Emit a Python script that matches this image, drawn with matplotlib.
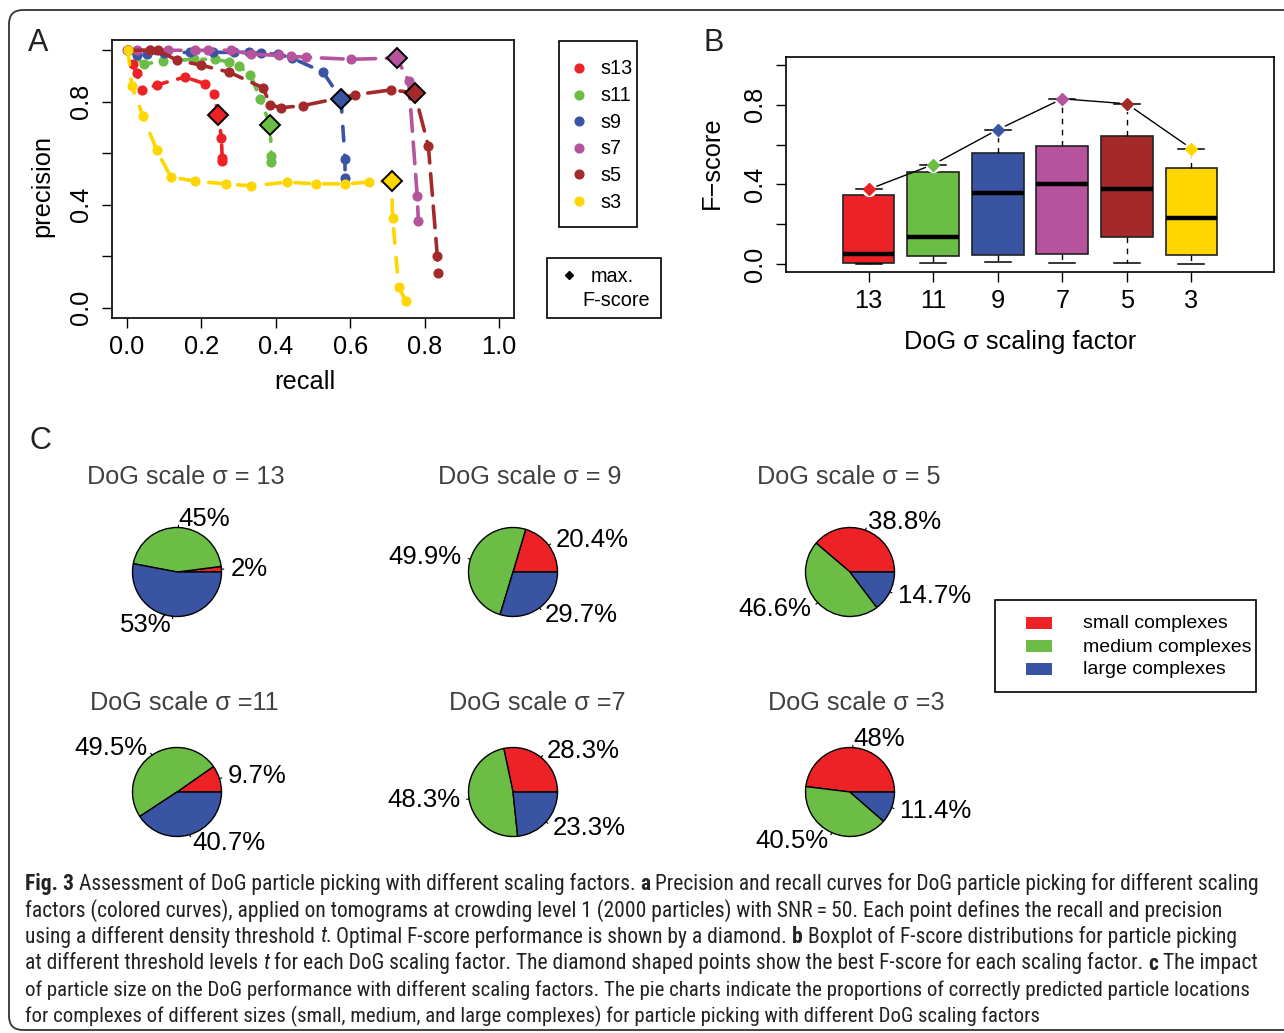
import os
import matplotlib
matplotlib.use('Agg')
import matplotlib.pyplot as plt
from matplotlib.patches import FancyBboxPatch, Rectangle
from matplotlib.lines import Line2D
from matplotlib import font_manager as fm
from matplotlib.font_manager import FontProperties
import numpy as np

W, H = 1284, 1033
DPI = 100
plt.rcParams['font.family'] = ['Liberation Sans', 'DejaVu Sans']

# ---------------- data: panel A (precision / recall) ----------------
series_names = ['s13', 's11', 's9', 's7', 's5', 's3']
series_colors = ['#EC2227', '#6BBD46', '#3A54A4', '#B5539C', '#A3292A', '#FFD600']

s13_recall = [0.003, 0.016, 0.027, 0.04, 0.08, 0.155, 0.21, 0.233, 0.246, 0.254, 0.256, 0.256]
s13_precision = [1.0, 0.946, 0.91, 0.846, 0.865, 0.896, 0.87, 0.83, 0.75, 0.658, 0.58, 0.57]

s11_recall = [0.003, 0.045, 0.096, 0.18, 0.238, 0.275, 0.302, 0.332, 0.358, 0.385, 0.388, 0.388]
s11_precision = [1.0, 0.946, 0.958, 0.965, 0.965, 0.954, 0.938, 0.904, 0.812, 0.708, 0.588, 0.565]

s9_recall = [0.003, 0.027, 0.053, 0.1, 0.17, 0.23, 0.289, 0.329, 0.361, 0.406, 0.444, 0.527, 0.575, 0.586, 0.586]
s9_precision = [1.0, 0.98, 0.985, 0.99, 0.992, 0.992, 0.992, 0.992, 0.988, 0.985, 0.97, 0.915, 0.812, 0.577, 0.504]

s7_recall = [0.0, 0.027, 0.061, 0.11, 0.182, 0.217, 0.281, 0.334, 0.409, 0.441, 0.481, 0.602, 0.725, 0.757, 0.78, 0.783]
s7_precision = [1.0, 1.0, 1.0, 1.0, 1.0, 1.0, 1.0, 0.985, 0.98, 0.977, 0.973, 0.965, 0.97, 0.88, 0.435, 0.338]

s5_recall = [0.003, 0.062, 0.083, 0.134, 0.2, 0.275, 0.366, 0.385, 0.414, 0.473, 0.612, 0.709, 0.773, 0.81, 0.834, 0.837]
s5_precision = [1.0, 1.0, 1.0, 0.962, 0.942, 0.915, 0.854, 0.788, 0.777, 0.785, 0.827, 0.846, 0.835, 0.627, 0.2, 0.135]

s3_recall = [0.003, 0.013, 0.043, 0.08, 0.118, 0.182, 0.265, 0.334, 0.43, 0.508, 0.586, 0.65, 0.711, 0.714, 0.73, 0.749]
s3_precision = [1.0, 0.862, 0.746, 0.612, 0.508, 0.492, 0.481, 0.473, 0.488, 0.481, 0.481, 0.488, 0.492, 0.35, 0.081, 0.027]

best_recall = [0.246, 0.385, 0.575, 0.725, 0.773, 0.711]
best_precision = [0.75, 0.708, 0.812, 0.97, 0.835, 0.492]

# ---------------- data: panel B (F-score boxplots) ----------------
fs_labels = ['13', '11', '9', '7', '5', '3']
fs_median = [0.05, 0.135, 0.355, 0.40, 0.375, 0.23]
fs_q1 = [0.005, 0.04, 0.045, 0.05, 0.135, 0.045]
fs_q3 = [0.345, 0.46, 0.56, 0.595, 0.645, 0.48]
fs_whislo = [0.0, 0.005, 0.01, 0.005, 0.005, 0.0]
max_fscore = [0.375, 0.50, 0.675, 0.83, 0.805, 0.58]

# ---------------- data: panel C (pies) ----------------
pie_titles = ['DoG scale σ = 13', 'DoG scale σ = 9', 'DoG scale σ = 5',
              'DoG scale σ =11', 'DoG scale σ =7', 'DoG scale σ =3']
pie_small = [2, 20.4, 38.8, 9.7, 28.3, 48]
pie_medium = [45, 49.9, 46.6, 49.5, 48.3, 40.5]
pie_large = [53, 29.7, 14.7, 40.7, 23.3, 11.4]
pie_categories = ['small complexes', 'medium complexes', 'large complexes']
pie_colors = ['#EC2227', '#6BBD46', '#3A54A4']

# ---------------- layout helpers ----------------
fig = plt.figure(figsize=(W / DPI, H / DPI), dpi=DPI)
fig.patch.set_facecolor('white')


def rect(l, t, r, b):
    return [l / W, 1 - b / H, (r - l) / W, (b - t) / H]


bg = fig.add_axes([0, 0, 1, 1])
bg.set_xlim(0, W)
bg.set_ylim(H, 0)
bg.axis('off')
bg.set_zorder(-5)

# outer rounded frame
bg.add_patch(FancyBboxPatch((9, 10), 1300 - 9, 1030 - 10,
                            boxstyle='round,pad=0,rounding_size=14',
                            fc='none', ec='#333333', lw=1.3, clip_on=False))

TICK_FS = 18.3
LAB_FS = 18.3

# ---------------- panel A ----------------
axA = fig.add_axes(rect(112, 40, 514, 318))
recalls = [s13_recall, s11_recall, s9_recall, s7_recall, s5_recall, s3_recall]
precisions = [s13_precision, s11_precision, s9_precision, s7_precision, s5_precision, s3_precision]
styles = [(0, (1, 3, 4, 3)), (0, (1, 3, 4, 3)), (0, (4, 4)), (0, (6, 3)), (0, (6, 3)), (0, (4, 4))]
for rec, prec, c, ls in zip(recalls, precisions, series_colors, styles):
    axA.plot(rec, prec, color=c, lw=2.6, ls=ls, dash_capstyle='round',
             marker='o', ms=6.3, mfc=c, mec=c, zorder=3)
for r, p, c in zip(best_recall, best_precision, series_colors):
    axA.plot([r], [p], marker='D', ms=10.5, mfc=c, mec='black', mew=1.4, ls='none', zorder=5)
axA.set_xlim(-0.04, 1.04)
axA.set_ylim(-0.04, 1.04)
axA.set_xticks(np.arange(0, 1.01, 0.2))
axA.set_xticklabels(['0.0', '0.2', '0.4', '0.6', '0.8', '1.0'])
axA.set_yticks(np.arange(0, 1.01, 0.2))
axA.set_yticklabels(['0.0', '', '0.4', '', '0.8', ''])
axA.tick_params(direction='out', length=7, width=1, labelsize=TICK_FS)
axA.tick_params(axis='x', pad=5.5)
axA.tick_params(axis='y', pad=7)
for lbl in axA.get_yticklabels():
    lbl.set_rotation(90)
    lbl.set_va('center')
for sp in axA.spines.values():
    sp.set_linewidth(1.2)

bg.text(38, 43, 'A', fontsize=22, ha='center', va='center', color='#222222')
bg.text(42, 186, 'precision', fontsize=LAB_FS, rotation=90, ha='center', va='center')
bg.text(305, 382, 'recall', fontsize=LAB_FS, ha='center', va='center')

# legend A (series)
bg.add_patch(Rectangle((559, 41), 637 - 559, 227 - 41, fc='white', ec='black', lw=1.2))
for i, (nm, c) in enumerate(zip(series_names, series_colors)):
    y = 68 + i * 26.6
    bg.add_line(Line2D([579], [y], marker='o', ms=6.3, mfc=c, mec=c, ls='none'))
    bg.text(600, y + 1, nm, fontsize=14.3, ha='left', va='center')
bg.add_patch(Rectangle((547, 258), 661 - 547, 318 - 258, fc='white', ec='black', lw=1.2))
bg.add_line(Line2D([569], [275], marker='D', ms=4, mfc='black', mec='black', ls='none'))
bg.text(591, 277, 'max.', fontsize=14.3, ha='left', va='center')
bg.text(582, 300, 'F-score', fontsize=14.3, ha='left', va='center')

# ---------------- panel B ----------------
axB = fig.add_axes(rect(786, 57, 1274, 272))
positions = np.arange(1, len(fs_labels) + 1)
stats = [dict(med=m, q1=a, q3=b, whislo=lo, whishi=hi, fliers=[])
         for m, a, b, lo, hi in zip(fs_median, fs_q1, fs_q3, fs_whislo, max_fscore)]
bp = axB.bxp(stats, positions=positions, widths=0.8, patch_artist=True, showfliers=False,
             boxprops=dict(edgecolor='#222222', linewidth=1.2),
             medianprops=dict(color='black', linewidth=3.2, solid_capstyle='butt'),
             whiskerprops=dict(color='black', linewidth=1.0, linestyle=(0, (4, 4))),
             capprops=dict(color='black', linewidth=1.1))
for patch, c in zip(bp['boxes'], series_colors):
    patch.set_facecolor(c)
axB.plot(positions, max_fscore, color='black', lw=1.0, zorder=4)
axB.plot(positions, max_fscore, ls='none', marker='o', ms=11, mfc='white', mec='none', zorder=5)
for cap in bp['caps']:
    cap.set_zorder(6)
for x, f, c in zip(positions, max_fscore, series_colors):
    axB.plot([x], [f], marker='D', ms=6.5, mfc=c, mec=c, ls='none', zorder=7)
axB.set_xlim(-0.28, 7.28)
axB.set_ylim(-0.04, 1.04)
axB.set_xticks(positions)
axB.set_xticklabels(fs_labels)
axB.set_yticks(np.arange(0, 1.01, 0.2))
axB.set_yticklabels(['0.0', '', '0.4', '', '0.8', ''])
axB.tick_params(direction='out', length=7, width=1, labelsize=TICK_FS)
axB.tick_params(axis='x', pad=5.5)
axB.tick_params(axis='y', pad=7)
for lbl in axB.get_yticklabels():
    lbl.set_rotation(90)
    lbl.set_va('center')
for sp in axB.spines.values():
    sp.set_linewidth(1.2)

bg.text(714, 43, 'B', fontsize=22, ha='center', va='center', color='#222222')
bg.text(712, 163, 'F\u2212score', fontsize=LAB_FS, rotation=90, ha='center', va='center')
bg.text(1020, 342, 'DoG σ scaling factor', fontsize=LAB_FS, ha='center', va='center')

# ---------------- panel C ----------------
bg.text(40, 441, 'C', fontsize=22, ha='center', va='center', color='#222222')
centers = [(177, 572), (513, 572), (850, 572), (177, 792), (513, 792), (850, 792)]
title_pos = [(186, 477), (530, 477), (849, 477), (184, 703), (537, 703), (856, 703)]
R = 44.5
for i in range(6):
    cx, cy = centers[i]
    axp = fig.add_axes(rect(cx - R, cy - R, cx + R, cy + R))
    vals = [pie_small[i], pie_medium[i], pie_large[i]]
    labels = ['%g%%' % v for v in vals]
    wedges, texts = axp.pie(vals, colors=pie_colors, labels=labels, labeldistance=1.2,
                            startangle=0, counterclock=True, radius=1,
                            wedgeprops=dict(edgecolor='black', linewidth=1.0),
                            textprops=dict(fontsize=18.5))
    for w in wedges:
        w.set_clip_on(False)
    cum = np.cumsum([0] + vals) / np.sum(vals) * 2 * np.pi
    mids = (cum[:-1] + cum[1:]) / 2
    for a in mids:
        axp.plot([np.cos(a), 1.05 * np.cos(a)], [np.sin(a), 1.05 * np.sin(a)],
                 color='black', lw=0.8, clip_on=False)
    axp.set_xlim(-1, 1)
    axp.set_ylim(-1, 1)
    axp.set_aspect('equal')
    axp.axis('off')
    tx, ty = title_pos[i]
    bg.text(tx, ty, pie_titles[i], fontsize=18.2, ha='center', va='center', color='#404040')

# legend C
bg.add_patch(Rectangle((995, 600), 1256 - 995, 692 - 600, fc='white', ec='black', lw=1.2))
for i, (nm, c) in enumerate(zip(pie_categories, pie_colors)):
    y = 623 + i * 23
    bg.add_patch(Rectangle((1026, y - 6), 26, 12, fc=c, ec='none'))
    bg.text(1083, y + 1, nm, fontsize=14, ha='left', va='center')

# ---------------- caption ----------------
def find_narrow():
    entries = fm.fontManager.ttflist
    cands = [e for e in entries if ('Narrow' in os.path.basename(e.fname) or 'Condensed' in os.path.basename(e.fname)
                                    or 'Narrow' in e.name or 'Condensed' in e.name)]
    order = ['Liberation Sans Narrow', 'Roboto Condensed', 'Open Sans Condensed', 'DejaVu Sans']

    def wnum(e):
        w = e.weight
        if isinstance(w, str):
            w = fm.weight_dict.get(w, 400)
        return w
    for name in order:
        grp = [e for e in cands if e.name == name]
        if not grp:
            continue
        reg = [e for e in grp if e.style == 'normal' and wnum(e) == 400]
        bold = [e for e in grp if e.style == 'normal' and wnum(e) >= 600]
        ita = [e for e in grp if e.style != 'normal' and wnum(e) == 400]
        if reg:
            r = reg[0].fname
            return dict(n=r, b=bold[0].fname if bold else r, i=ita[0].fname if ita else r)
    return None


narrow = find_narrow()


def cap_fp(style, size):
    if narrow is not None:
        return FontProperties(fname=narrow[style], size=size)
    if style == 'b':
        return FontProperties(family='Liberation Sans', weight='bold', size=size)
    if style == 'i':
        return FontProperties(family='Liberation Sans', style='italic', size=size)
    return FontProperties(family='Liberation Sans', size=size)


caption = [
    [('Fig. 3', 'b', False), ('Assessment of DoG particle picking with different scaling factors.', 'n', True),
     ('a', 'b', True), ('Precision and recall curves for DoG particle picking for different scaling', 'n', True)],
    [('factors (colored curves), applied on tomograms at crowding level 1 (2000 particles) with SNR\u2009=\u200950. Each point defines the recall and precision', 'n', False)],
    [('using a different density threshold', 'n', False), ('t', 'i', True), ('.', 'n', False),
     ('Optimal F-score performance is shown by a diamond.', 'n', True), ('b', 'b', True),
     ('Boxplot of F-score distributions for particle picking', 'n', True)],
    [('at different threshold levels', 'n', False), ('t', 'i', True),
     ('for each DoG scaling factor. The diamond shaped points show the best F-score for each scaling factor.', 'n', True),
     ('c', 'b', True), ('The impact', 'n', True)],
    [('of particle size on the DoG performance with different scaling factors. The pie charts indicate the proportions of correctly predicted particle locations', 'n', False)],
    [('for complexes of different sizes (small, medium, and large complexes) for particle picking with different DoG scaling factors', 'n', False)],
]
caption_right = [1270, 1237, 1259, 1276, 1259, 1045]

renderer = fig.canvas.get_renderer()


def twidth(s, fp):
    t = bg.text(0, 0, s, fontproperties=fp)
    w = t.get_window_extent(renderer).width
    t.remove()
    return w


def space_width(size):
    return twidth('x x', cap_fp('n', size)) - twidth('xx', cap_fp('n', size))


def line_width(segs, size):
    sp = space_width(size)
    tot = 0
    for s, st, space in segs:
        if space:
            tot += sp
        tot += twidth(s, cap_fp(st, size))
    return tot


ys = [884, 910.5, 937, 963.5, 990, 1016.5]
base = 14.0
for segs, y, right in zip(caption, ys, caption_right):
    size = base * (right - 25) / line_width(segs, base)
    size = min(max(size, 12.5), 15.5)
    sp = space_width(size)
    x = 25
    for s, st, space in segs:
        if space:
            x += sp
        fp = cap_fp(st, size)
        bg.text(x, y, s, fontproperties=fp, ha='left', va='center', color='#222222')
        x += twidth(s, fp)

fig.savefig('out.png', dpi=DPI, facecolor='white')
